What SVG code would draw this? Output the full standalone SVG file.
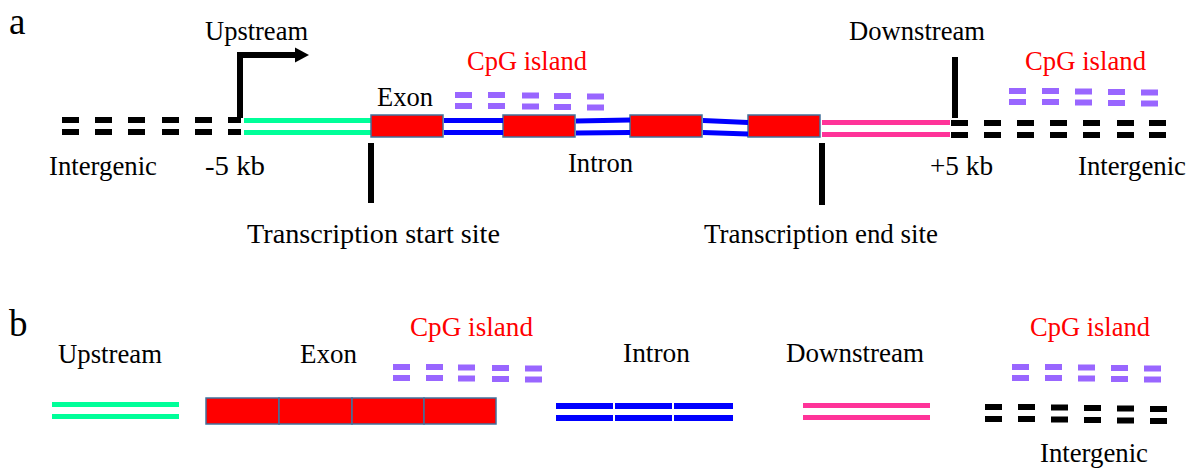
<svg xmlns="http://www.w3.org/2000/svg" width="1196" height="470" viewBox="0 0 1196 470">
<style>
text{font-family:"Liberation Serif","Times New Roman",serif;font-size:28px;fill:#000}
.red{fill:#FF0000}
.big{font-size:37px}
.g{fill:#00FF99}
.p{fill:#FF3399}
.b{fill:#0000FF}
.pu{fill:#9966FF}
.k{fill:#000}
.ex{fill:#FF0000;stroke:#41719C;stroke-width:1.5}
.bar{stroke:#000;stroke-width:6;fill:none}
</style>
<defs>
<g id="kd"><rect x="0" y="0" width="17" height="6" class="k"/><rect x="0" y="12" width="17" height="6" class="k"/></g>
<g id="pd"><rect x="0" y="0" width="17" height="6" class="pu"/><rect x="0" y="11" width="17" height="6" class="pu"/></g>
</defs>
<rect width="1196" height="470" fill="#fff"/>
<text class="big" x="9" y="34">a</text>
<text class="big" x="9" y="336">b</text>

<g id="a-intergenic-left">
<use href="#kd" x="62" y="117"/><use href="#kd" x="95" y="117"/><use href="#kd" x="128" y="117"/><use href="#kd" x="162" y="117"/><use href="#kd" x="195" y="117"/>
<rect x="228" y="117" width="13" height="6" class="k"/><rect x="228" y="129" width="13" height="6" class="k"/>
<text x="49" y="175" textLength="108" lengthAdjust="spacingAndGlyphs">Intergenic</text>
</g>
<g id="a-upstream">
<rect x="244" y="118" width="127" height="5" class="g"/><rect x="244" y="130" width="127" height="5" class="g"/>
<text x="205" y="40" textLength="103" lengthAdjust="spacingAndGlyphs">Upstream</text>
<text x="205" y="175" textLength="60" lengthAdjust="spacingAndGlyphs">-5 kb</text>
</g>
<g id="a-exons">
<rect x="371" y="115" width="72" height="22" class="ex"/>
<rect x="503" y="115" width="72" height="22" class="ex"/>
<rect x="630" y="115" width="72" height="22" class="ex"/>
<rect x="748" y="115" width="72" height="22" class="ex"/>
<text x="377" y="106" textLength="56" lengthAdjust="spacingAndGlyphs">Exon</text>
</g>
<g id="a-introns">
<rect x="444" y="118" width="59" height="5" class="b"/><rect x="444" y="130" width="59" height="5" class="b"/>
<polygon points="576,118.5 630,117.5 630,122.5 576,123.5" class="b"/><polygon points="576,130.5 630,130 630,135 576,135.5" class="b"/>
<polygon points="703,118 748,120 748,125 703,123" class="b"/><polygon points="703,130 748,131.5 748,136.5 703,135" class="b"/>
<text x="568" y="172" textLength="65" lengthAdjust="spacingAndGlyphs">Intron</text>
</g>
<g id="a-downstream">
<rect x="822" y="120" width="128" height="5" class="p"/><rect x="822" y="132" width="128" height="5" class="p"/>
<text x="849" y="40" textLength="136" lengthAdjust="spacingAndGlyphs">Downstream</text>
<text x="930" y="175" textLength="63" lengthAdjust="spacingAndGlyphs">+5 kb</text>
</g>
<g id="a-intergenic-right">
<use href="#kd" x="951" y="120"/><use href="#kd" x="984" y="120"/><use href="#kd" x="1017" y="120"/><use href="#kd" x="1050" y="120"/><use href="#kd" x="1083" y="120"/><use href="#kd" x="1117" y="120"/><use href="#kd" x="1149" y="120"/>
<text x="1078" y="175" textLength="108" lengthAdjust="spacingAndGlyphs">Intergenic</text>
</g>
<g id="a-cpg-mid">
<use href="#pd" x="455" y="92"/><use href="#pd" x="488" y="92"/><use href="#pd" x="522" y="92.5"/><use href="#pd" x="554" y="93"/><use href="#pd" x="587" y="93.5"/>
<text class="red" x="467" y="70" textLength="120" lengthAdjust="spacingAndGlyphs">CpG island</text>
</g>
<g id="a-cpg-right">
<use href="#pd" x="1009" y="88"/><use href="#pd" x="1042" y="88"/><use href="#pd" x="1075" y="88.5"/><use href="#pd" x="1108" y="89"/><use href="#pd" x="1141" y="89.5"/>
<text class="red" x="1025" y="70" textLength="121" lengthAdjust="spacingAndGlyphs">CpG island</text>
</g>
<g id="a-tss">
<text x="247" y="243" textLength="253" lengthAdjust="spacingAndGlyphs">Transcription start site</text>
</g>
<g id="a-tes">
<text x="704" y="243" textLength="234" lengthAdjust="spacingAndGlyphs">Transcription end site</text>
</g>

<g id="connectors">
<path d="M240,118 V55 H297" class="bar"/>
<polygon points="295,47.5 309,55 295,62.5" class="k"/>
<line x1="371" y1="143" x2="371" y2="203" class="bar"/>
<line x1="822" y1="143" x2="822" y2="205" class="bar"/>
<line x1="955" y1="57" x2="955" y2="118" class="bar"/>
</g>

<g id="b-upstream">
<text x="58" y="363" textLength="104" lengthAdjust="spacingAndGlyphs">Upstream</text>
<rect x="52" y="402" width="127" height="5" class="g"/><rect x="52" y="414" width="127" height="5" class="g"/>
</g>
<g id="b-exon">
<text x="300" y="363" textLength="57" lengthAdjust="spacingAndGlyphs">Exon</text>
<rect x="206" y="398" width="73" height="26" class="ex"/>
<rect x="279" y="398" width="73" height="26" class="ex"/>
<rect x="352" y="398" width="72" height="26" class="ex"/>
<rect x="424" y="398" width="72" height="26" class="ex"/>
</g>
<g id="b-cpg-mid">
<text class="red" x="410" y="336" textLength="123" lengthAdjust="spacingAndGlyphs">CpG island</text>
<use href="#pd" x="393" y="364"/><use href="#pd" x="426" y="364"/><use href="#pd" x="458" y="364.5"/><use href="#pd" x="492" y="365"/><use href="#pd" x="525" y="365.5"/>
</g>
<g id="b-intron">
<text x="623" y="362" textLength="67" lengthAdjust="spacingAndGlyphs">Intron</text>
<rect x="556" y="403" width="57" height="6" class="b"/><rect x="615" y="403" width="57" height="6" class="b"/><rect x="674" y="403" width="59" height="6" class="b"/>
<rect x="556" y="415" width="57" height="6" class="b"/><rect x="615" y="415" width="57" height="6" class="b"/><rect x="674" y="415" width="59" height="6" class="b"/>
</g>
<g id="b-downstream">
<text x="786" y="362" textLength="138" lengthAdjust="spacingAndGlyphs">Downstream</text>
<rect x="803" y="403" width="127" height="5" class="p"/><rect x="803" y="415" width="127" height="5" class="p"/>
</g>
<g id="b-cpg-right">
<text class="red" x="1030" y="336" textLength="120" lengthAdjust="spacingAndGlyphs">CpG island</text>
<use href="#pd" x="1012" y="364"/><use href="#pd" x="1045" y="364"/><use href="#pd" x="1078" y="364.5"/><use href="#pd" x="1111" y="365"/><use href="#pd" x="1144" y="365.5"/>
</g>
<g id="b-intergenic">
<use href="#kd" x="985" y="404"/><use href="#kd" x="1018" y="404"/><use href="#kd" x="1051" y="404.5"/><use href="#kd" x="1084" y="405"/><use href="#kd" x="1117" y="405.5"/><use href="#kd" x="1150" y="406"/>
<text x="1040" y="462" textLength="108" lengthAdjust="spacingAndGlyphs">Intergenic</text>
</g>
</svg>
